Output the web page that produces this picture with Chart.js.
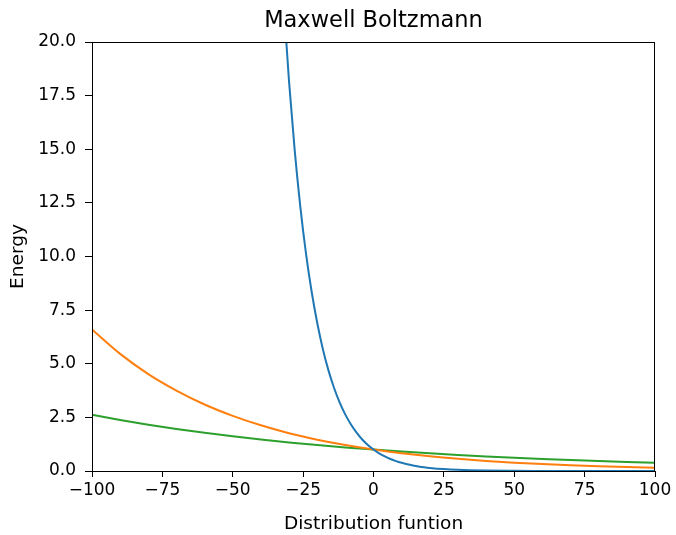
<!DOCTYPE html>
<html>
<head>
<meta charset="utf-8">
<script src="https://cdn.jsdelivr.net/npm/chart.js@4"></script>
<style>
  html, body { margin: 0; padding: 0; background: #fff; }
</style>
</head>
<body>
<canvas id="mbChart" width="676" height="535"></canvas>
<script>
// values
const blueX = [-32, -30, -28, -26, -24, -22, -20, -18, -16, -14, -12, -10, -8, -6, -4, -2, 0, 2, 4, 6, 8, 10, 12, 14, 16, 18, 20, 25, 30, 40, 50, 60, 80, 100];
const blueY = [22.0, 18.15, 14.96, 12.33, 10.16, 8.38, 6.91, 5.69, 4.69, 3.87, 3.19, 2.63, 2.17, 1.79, 1.47, 1.21, 1.0, 0.824, 0.679, 0.56, 0.462, 0.381, 0.314, 0.259, 0.213, 0.176, 0.145, 0.089, 0.055, 0.021, 0.008, 0.003, 0.0004, 0.0001];

const otherX = [-100, -90, -80, -70, -60, -50, -40, -30, -20, -10, 0, 10, 20, 30, 40, 50, 60, 70, 80, 90, 100];
const orangeY = [6.60, 5.46, 4.52, 3.75, 3.10, 2.57, 2.13, 1.76, 1.46, 1.21, 1.0, 0.83, 0.686, 0.568, 0.47, 0.389, 0.322, 0.267, 0.221, 0.183, 0.152];
const greenY = [2.62, 2.38, 2.16, 1.96, 1.78, 1.62, 1.47, 1.33, 1.21, 1.10, 1.0, 0.908, 0.825, 0.749, 0.681, 0.618, 0.562, 0.51, 0.463, 0.421, 0.382];

const FONT = "'DejaVu Sans', sans-serif";

function pairs(xs, ys) {
    return xs.map((x, i) => ({ x: x, y: ys[i] }));
}

function minusLabel(v) {
    return v < 0 ? "\u2212" + Math.abs(v) : String(v);
}

// matplotlib style box + title over the axes
const framePlugin = {
    id: "frame",
    afterDraw(chart) {
        const a = chart.chartArea;
        const ctx = chart.ctx;
        ctx.save();
        ctx.strokeStyle = "#000";
        ctx.lineWidth = 1;
        ctx.strokeRect(a.left + 0.5, a.top + 0.5, a.right - a.left - 1, a.bottom - a.top);
        ctx.fillStyle = "#000";
        ctx.font = "22.5px " + FONT;
        ctx.textAlign = "center";
        ctx.textBaseline = "middle";
        ctx.fillText("Maxwell Boltzmann", (a.left + a.right) / 2, 21);
        ctx.restore();
    }
};

const line = (data, color) => ({
    data: data,
    borderColor: color,
    borderWidth: 2,
    pointRadius: 0,
    fill: false,
    cubicInterpolationMode: "monotone"
});

const ctx = document.getElementById("mbChart").getContext("2d");
new Chart(ctx, {
    type: "line",
    data: {
        datasets: [
            line(pairs(blueX, blueY), "#1f77b4"),
            line(pairs(otherX, orangeY), "#ff7f0e"),
            line(pairs(otherX, greenY), "#2ca02c")
        ]
    },
    options: {
        responsive: false,
        animation: false,
        layout: { padding: { top: 42, right: 21, left: 0, bottom: 0 } },
        plugins: {
            legend: { display: false },
            tooltip: { enabled: false }
        },
        scales: {
            x: {
                type: "linear",
                min: -100,
                max: 100,
                afterFit: s => { s.height = 64; },
                border: { display: true, color: "#000", width: 1 },
                grid: { display: true, drawOnChartArea: false, drawTicks: true, tickLength: 6, color: "#000" },
                ticks: {
                    stepSize: 25,
                    autoSkip: false,
                    maxRotation: 0,
                    padding: 3,
                    color: "#000",
                    font: { family: FONT, size: 17 },
                    callback: v => minusLabel(v)
                },
                title: {
                    display: true,
                    text: "Distribution funtion",
                    color: "#000",
                    font: { family: FONT, size: 18.5 },
                    padding: { top: 8, bottom: 0 }
                }
            },
            y: {
                min: 0,
                max: 20,
                afterFit: s => { s.width = 92; },
                border: { display: true, color: "#000", width: 1 },
                grid: { display: true, drawOnChartArea: false, drawTicks: true, tickLength: 7, color: "#000" },
                ticks: {
                    stepSize: 2.5,
                    autoSkip: false,
                    padding: 9,
                    color: "#000",
                    font: { family: FONT, size: 17 },
                    callback: v => v.toFixed(1)
                },
                title: {
                    display: true,
                    text: "Energy",
                    color: "#000",
                    font: { family: FONT, size: 18.5 },
                    padding: { top: 7, bottom: 0 }
                }
            }
        }
    },
    plugins: [framePlugin]
});
</script>
</body>
</html>
